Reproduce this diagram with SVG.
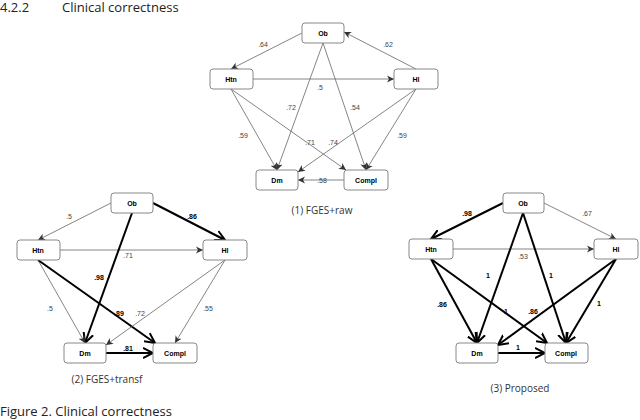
<svg xmlns="http://www.w3.org/2000/svg" width="640" height="420" viewBox="0 0 640 420">
<defs>
<marker id="a" markerWidth="8" markerHeight="8" refX="7" refY="4" orient="auto" markerUnits="userSpaceOnUse"><path d="M0,0.5 L7,4 L0,7.5 L2,4 Z" fill="#333"/></marker>
<marker id="b" markerWidth="12" markerHeight="12" refX="10" refY="6" orient="auto" markerUnits="userSpaceOnUse"><path d="M0,1 L10,6 L0,11" fill="none" stroke="#000" stroke-width="2"/></marker>
</defs>
<style>
.n rect{fill:#fff;stroke:#888;stroke-width:1}
.n text{font:bold 7px "Liberation Sans",Arial,sans-serif;text-anchor:middle}
.t{stroke:#666;stroke-width:0.8;fill:none;marker-end:url(#a)}
.k{stroke:#000;stroke-width:2;fill:none;marker-end:url(#b)}
.l{font:7px "Liberation Sans",Arial,sans-serif;fill:#444;text-anchor:middle}
.lb{font:bold 7px "Liberation Sans",Arial,sans-serif;fill:#000;text-anchor:middle}
.c{font:10px "Open Sans","Liberation Sans",sans-serif;fill:#333;text-anchor:middle}
.h{font:13px "Open Sans","Liberation Sans",sans-serif;fill:#222}
</style>
<text class="h" x="0" y="12">4.2.2</text>
<text class="h" x="62" y="12">Clinical correctness</text>
<text class="h" x="0" y="416">Figure 2. Clinical correctness</text>
<g id="connectors">
<line class="t" x1="302" y1="33" x2="231" y2="69"/>
<line class="t" x1="416" y1="69" x2="344" y2="32"/>
<line class="t" x1="253" y1="79" x2="394" y2="79"/>
<line class="t" x1="323" y1="43" x2="277" y2="170"/>
<line class="t" x1="323" y1="43" x2="366" y2="170"/>
<line class="t" x1="231" y1="89" x2="277" y2="170"/>
<line class="t" x1="231" y1="89" x2="346" y2="170"/>
<line class="t" x1="416" y1="89" x2="298" y2="172"/>
<line class="t" x1="416" y1="89" x2="366" y2="170"/>
<line class="t" x1="344" y1="180" x2="298" y2="180"/>

<line class="t" x1="111" y1="203" x2="38" y2="240"/>
<line class="k" x1="153" y1="203" x2="225" y2="240"/>
<line class="t" x1="60" y1="250" x2="203" y2="250"/>
<line class="k" x1="132" y1="213" x2="85" y2="343"/>
<line class="t" x1="38" y1="260" x2="85" y2="343"/>
<line class="k" x1="38" y1="260" x2="155" y2="343"/>
<line class="t" x1="225" y1="260" x2="106" y2="345"/>
<line class="t" x1="225" y1="260" x2="175" y2="343"/>
<line class="k" x1="106" y1="353" x2="153" y2="353"/>

<line class="k" x1="503" y1="203" x2="431" y2="239"/>
<line class="t" x1="544" y1="203" x2="616" y2="239"/>
<line class="t" x1="453" y1="249" x2="594" y2="249"/>
<line class="k" x1="523" y1="213" x2="477" y2="343"/>
<line class="k" x1="523" y1="213" x2="566" y2="343"/>
<line class="k" x1="431" y1="259" x2="477" y2="343"/>
<line class="k" x1="431" y1="259" x2="547" y2="343"/>
<line class="k" x1="616" y1="259" x2="498" y2="345"/>
<line class="k" x1="616" y1="259" x2="566" y2="343"/>
<line class="k" x1="498" y1="353" x2="545" y2="353"/>
</g>
<g id="labels">
<text class="l" x="263" y="47">.64</text><text class="l" x="388" y="47">.62</text>
<text class="l" x="320" y="90">.5</text><text class="l" x="291" y="110">.72</text>
<text class="l" x="355" y="110">.54</text><text class="l" x="243" y="138">.59</text>
<text class="l" x="310" y="145">.71</text><text class="l" x="333" y="145">.74</text>
<text class="l" x="402" y="138">.59</text><text class="l" x="322" y="183">.58</text>

<text class="l" x="69" y="219">.5</text><text class="lb" x="192" y="219">.86</text>
<text class="l" x="128" y="258">.71</text><text class="lb" x="99" y="280">.98</text>
<text class="l" x="50" y="311">.5</text><text class="lb" x="119" y="316">.89</text>
<text class="l" x="140" y="316">.72</text><text class="l" x="208" y="311">.55</text>
<text class="lb" x="128" y="351">.81</text>

<text class="lb" x="467" y="216">.98</text><text class="l" x="587" y="216">.67</text>
<text class="l" x="523" y="259">.53</text><text class="lb" x="488" y="278">1</text>
<text class="lb" x="551" y="278">1</text><text class="lb" x="442" y="307">.86</text>
<text class="lb" x="506" y="314">1</text><text class="lb" x="533" y="314">.86</text>
<text class="lb" x="599" y="306">1</text><text class="lb" x="518" y="350">1</text>
</g>
<g id="g1-Ob" class="n"><rect x="302" y="23" width="42" height="20" rx="3"/><text x="323" y="36">Ob</text></g>
<g id="g1-Htn" class="n"><rect x="210" y="69" width="43" height="20" rx="3"/><text x="231" y="82">Htn</text></g>
<g id="g1-Hl" class="n"><rect x="394" y="69" width="44" height="20" rx="3"/><text x="416" y="82">Hl</text></g>
<g id="g1-Dm" class="n"><rect x="256" y="170" width="42" height="20" rx="3"/><text x="277" y="183">Dm</text></g>
<g id="g1-Compl" class="n"><rect x="344" y="170" width="44" height="20" rx="3"/><text x="366" y="183">Compl</text></g>

<g id="g2-Ob" class="n"><rect x="111" y="193" width="42" height="20" rx="3"/><text x="132" y="206">Ob</text></g>
<g id="g2-Htn" class="n"><rect x="17" y="240" width="43" height="20" rx="3"/><text x="38" y="253">Htn</text></g>
<g id="g2-Hl" class="n"><rect x="203" y="240" width="44" height="20" rx="3"/><text x="225" y="253">Hl</text></g>
<g id="g2-Dm" class="n"><rect x="64" y="343" width="42" height="20" rx="3"/><text x="85" y="356">Dm</text></g>
<g id="g2-Compl" class="n"><rect x="153" y="343" width="44" height="20" rx="3"/><text x="175" y="356">Compl</text></g>

<g id="g3-Ob" class="n"><rect x="503" y="193" width="41" height="20" rx="3"/><text x="523" y="206">Ob</text></g>
<g id="g3-Htn" class="n"><rect x="409" y="239" width="44" height="20" rx="3"/><text x="431" y="252">Htn</text></g>
<g id="g3-Hl" class="n"><rect x="594" y="239" width="44" height="20" rx="3"/><text x="616" y="252">Hl</text></g>
<g id="g3-Dm" class="n"><rect x="456" y="343" width="42" height="20" rx="3"/><text x="477" y="356">Dm</text></g>
<g id="g3-Compl" class="n"><rect x="545" y="343" width="43" height="20" rx="3"/><text x="566" y="356">Compl</text></g>
<text class="c" x="322" y="214">(1) FGES+raw</text>
<text class="c" x="107" y="383">(2) FGES+transf</text>
<text class="c" x="520" y="392">(3) Proposed</text>
</svg>
